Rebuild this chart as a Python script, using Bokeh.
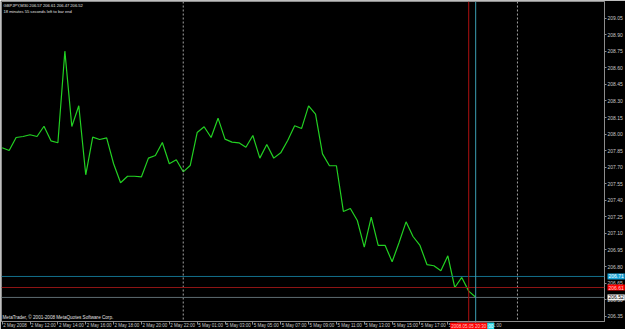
from bokeh.plotting import figure
from bokeh.models import Range1d, FixedTicker, Span, Label, PrintfTickFormatter
from bokeh.core.properties import value
from bokeh.embed import file_html
from bokeh.resources import INLINE

# ---- data ----
close = [207.876, 207.851, 207.969, 207.978, 207.994, 207.978, 208.071, 207.939, 207.921, 208.751,
         208.069, 208.256, 207.631, 207.972, 207.951, 207.966, 207.731, 207.559, 207.618, 207.618,
         207.613, 207.782, 207.806, 207.924, 207.731, 207.767, 207.658, 207.715, 208.014, 208.066,
         207.969, 208.144, 207.954, 207.927, 207.921, 207.881, 207.987, 207.782, 207.906, 207.782,
         207.830, 207.942, 208.075, 208.051, 208.256, 208.180, 207.821, 207.713, 207.713, 207.299,
         207.326, 207.217, 206.975, 207.247, 206.991, 206.991, 206.843, 207.018, 207.205, 207.072,
         206.991, 206.818, 206.807, 206.761, 206.897, 206.610, 206.701, 206.577, 206.522]
bar_idx = list(range(len(close)))

tick_idx = [0, 4, 8, 12, 16, 20, 24, 28, 32, 36, 40, 44, 48, 52, 56, 60, 64, 68]
tick_labels = ["2 May 2008", "2 May 12:00", "2 May 14:00", "2 May 16:00", "2 May 18:00",
               "2 May 20:00", "2 May 22:00", "5 May 01:00", "5 May 03:00", "5 May 05:00",
               "5 May 07:00", "5 May 09:00", "5 May 11:00", "5 May 13:00", "5 May 15:00",
               "5 May 17:00", "5 May 19:00", "5 May 21:00"]
price_ticks = [209.05, 208.90, 208.75, 208.60, 208.45, 208.30, 208.15, 208.00, 207.85,
               207.70, 207.55, 207.40, 207.25, 207.10, 206.95, 206.80, 206.65, 206.50, 206.35]

day_sep_idx = [26, 74]
hline_level = 206.71
ask_level = 206.61
bid_level = 206.52
red_vline_idx = 67
cyan_vline_idx = 68
red_time_text = "2008.05.05 20:30"
cyan_time_text = "2008.05.05 21:00"
header1 = "GBPJPY,M30  206.57 206.61 206.47 206.52"
header2 = "18 minutes 55 seconds left to bar end"
footer = "MetaTrader, \u00a9 2001-2008 MetaQuotes Software Corp."

FONT = "Liberation Sans"
GRAY = "#8c8c8c"
TXT = "#c8c8c8"
X0, X1 = -0.1, 86.5
Y0, Y1 = 206.302, 209.201

p = figure(width=625, height=329, output_backend="svg", toolbar_location=None,
           x_range=Range1d(X0, X1), y_range=Range1d(Y0, Y1),
           y_axis_location="right",
           min_border_left=1, min_border_top=1, min_border_right=0, min_border_bottom=8,
           background_fill_color="#000000", border_fill_color="#000000")
p.grid.visible = False
p.outline_line_color = GRAY

# time axis: tick marks from the axis, labels drawn left-aligned at the ticks
xa = p.xaxis[0]
xa.ticker = FixedTicker(ticks=tick_idx)
xa.major_label_text_font_size = "1px"
xa.major_label_text_color = None
xa.major_label_standoff = 0
xa.major_tick_out = 3
xa.major_tick_in = 0
xa.minor_tick_out = 0
xa.minor_tick_in = 0
xa.major_tick_line_color = GRAY
xa.axis_line_color = GRAY

p.text(x=tick_idx, y=[Y0] * len(tick_idx), text=tick_labels, x_offset=1, y_offset=1,
       text_align="left", text_baseline="top", text_font=value(FONT),
       text_font_size="4.5px", text_color=TXT, level="overlay")

ya = p.yaxis[0]
ya.ticker = FixedTicker(ticks=price_ticks)
ya.formatter = PrintfTickFormatter(format="%.2f")
ya.major_label_text_font = FONT
ya.major_label_text_font_size = "5px"
ya.major_label_text_color = TXT
ya.major_label_standoff = 1
ya.major_tick_out = 2
ya.major_tick_in = 0
ya.minor_tick_out = 0
ya.minor_tick_in = 0
ya.major_tick_line_color = GRAY
ya.axis_line_color = GRAY

for d in day_sep_idx:
    p.add_layout(Span(location=d, dimension="height", line_color="#a0a0a0",
                      line_width=1, line_dash="2 2"))

p.add_layout(Span(location=hline_level, dimension="width", line_color="#136f8c", line_width=1))
p.add_layout(Span(location=ask_level, dimension="width", line_color="#8e1414", line_width=1))
p.add_layout(Span(location=bid_level, dimension="width", line_color="#5d6b72", line_width=1))
p.add_layout(Span(location=red_vline_idx, dimension="height", line_color="#b01010", line_width=1))
p.add_layout(Span(location=cyan_vline_idx, dimension="height", line_color="#3a9fb2", line_width=1))

p.line(bar_idx, close, line_color="#22d022", line_width=1.2)

# price labels on the right scale
levels = [hline_level, ask_level, bid_level]
p.text(x=[X1] * 3, y=levels, text=["%.2f" % v for v in levels], x_offset=3,
       text_align="left", text_baseline="middle", text_font=value(FONT), text_font_size="5px",
       text_color=["#ffffff", "#ffd0d0", "#000000"],
       background_fill_color=["#19a4d8", "#ff0000", "#f0f0f0"], padding=1, level="overlay")

# time labels under the vertical lines (cyan first, red on top)
p.text(x=[cyan_vline_idx, red_vline_idx], y=[Y0, Y0], text=[cyan_time_text, red_time_text],
       y_offset=1, text_align="center", text_baseline="top", text_font=value(FONT),
       text_font_size="4.5px", text_color=["#ffffff", "#ffc8c8"],
       background_fill_color=["#22d8e8", "#ff0000"], padding=1, level="overlay")

# header / footer texts
p.add_layout(Label(x=X0, y=Y1, x_offset=2, y_offset=-1.5, text=header1,
                   text_baseline="top", text_font=FONT, text_font_size="4.1px", text_color="#e0e0e0"))
p.add_layout(Label(x=X0, y=Y1, x_offset=2, y_offset=-7.5, text=header2,
                   text_baseline="top", text_font=FONT, text_font_size="4.1px", text_color="#e0e0e0"))
p.add_layout(Label(x=X0, y=Y0, x_offset=1, y_offset=2, text=footer,
                   text_baseline="bottom", text_font=FONT, text_font_size="4.6px", text_color="#e0e0e0"))

open("out.html", "w").write(file_html(p, INLINE))
